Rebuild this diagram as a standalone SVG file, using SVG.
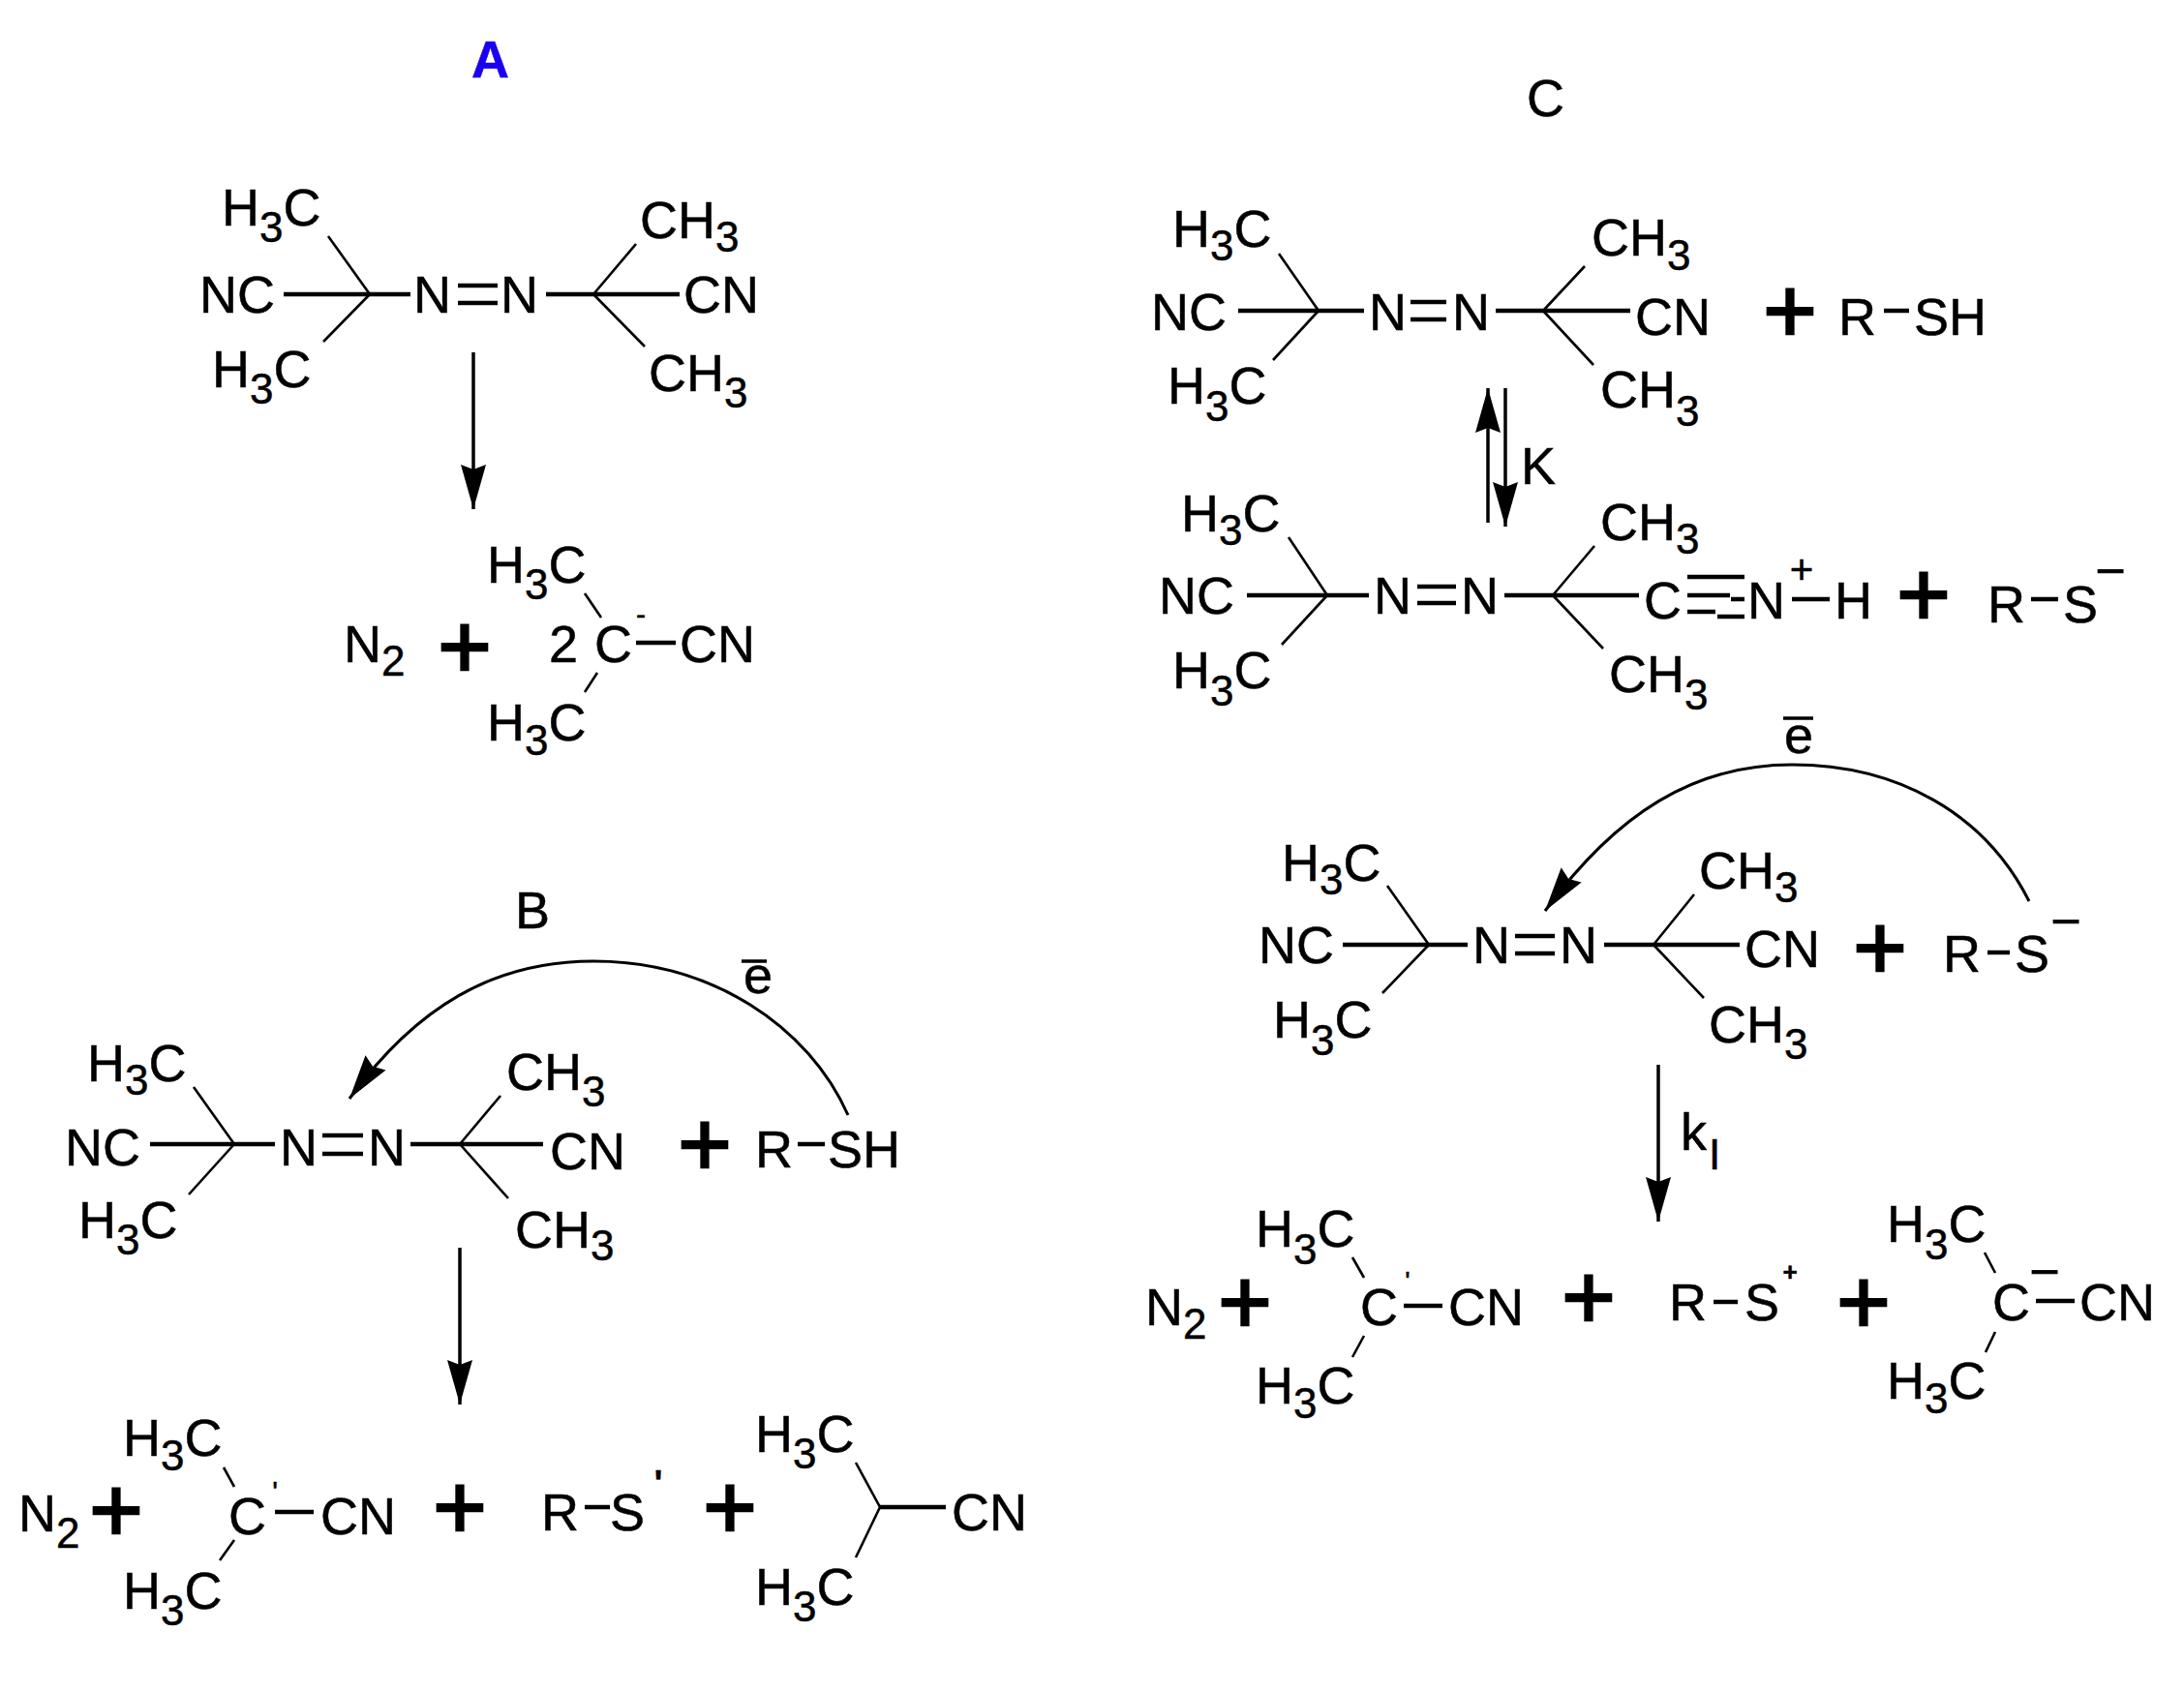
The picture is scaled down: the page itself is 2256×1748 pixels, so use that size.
<svg xmlns="http://www.w3.org/2000/svg" width="2256" height="1748" viewBox="0 0 2256 1748">
<style>
text{font-family:"Liberation Sans",Arial,sans-serif;font-size:54px;fill:#000;stroke:#000;stroke-width:.5;transform:translateX(-2px)}
.s{font-size:44px}
.plus{font-size:95px;text-anchor:middle;stroke-width:2.5;transform:none}
.chg{font-size:42px;text-anchor:middle;transform:none}
.lab{font-size:54px}
line{stroke:#000;stroke-width:3.5}
.b{stroke-width:4.5}
.d{stroke-width:2.6}
path.c{fill:none;stroke:#000;stroke-width:3}
</style>
<defs>
<marker id="head" markerUnits="userSpaceOnUse" markerWidth="60" markerHeight="40" refX="46" refY="15" orient="auto"><path d="M46,15L0,2L5,15L0,28Z" fill="#000"/></marker>
</defs>
<rect width="2256" height="1748" fill="#fff"/>

<g id="labels">
<text x="487" y="80" style="fill:#1a00f0;stroke:#1a00f0;font-size:54px;font-weight:700;transform:none">A</text>
<text class="lab" x="534" y="959">B</text>
<text class="lab" x="1579" y="120">C</text>
<text x="770" y="1026">e</text><line x1="766" y1="993" x2="792" y2="993"/>
<text x="1845" y="778">e</text><line x1="1842" y1="742" x2="1873" y2="742"/>
<text x="1573" y="500">K</text>
<text x="1738" y="1188">k<tspan class="s" dx="2" dy="20">I</tspan></text>
</g>

<g id="connectors">
<line x1="489" y1="364" x2="489" y2="526" marker-end="url(#head)"/>
<path class="c" d="M876,1152C835,1060 735,993 613,993C510,993 430,1040 361,1135" marker-end="url(#head)"/>
<line x1="475" y1="1289" x2="475" y2="1451" marker-end="url(#head)"/>
<line x1="1537" y1="540" x2="1537" y2="401" marker-end="url(#head)"/>
<line x1="1555" y1="401" x2="1555" y2="544" marker-end="url(#head)"/>
<path class="c" d="M2096,931C2050,840 1960,790 1851,790C1750,790 1670,840 1596,941" marker-end="url(#head)"/>
<line x1="1713" y1="1100" x2="1713" y2="1262" marker-end="url(#head)"/>
</g>

<g id="a-reactant">
<text x="231" y="233">H<tspan class="s" dy="17">3</tspan><tspan dy="-17">C</tspan></text>
<text x="208" y="323">NC</text>
<text x="221" y="400">H<tspan class="s" dy="17">3</tspan><tspan dy="-17">C</tspan></text>
<text x="429" y="323">N</text><text x="519" y="323">N</text>
<text x="663" y="246">CH<tspan class="s" dy="14">3</tspan></text>
<text x="708" y="323">CN</text>
<text x="672" y="404">CH<tspan class="s" dy="17">3</tspan></text>
<line class="b" x1="293" y1="304" x2="424" y2="304"/><line class="b" x1="473" y1="295" x2="514" y2="295"/><line class="b" x1="473" y1="313" x2="514" y2="313"/><line class="b" x1="564" y1="304" x2="702" y2="304"/>
<line class="d" x1="339" y1="244" x2="382" y2="304"/><line class="d" x1="334" y1="353" x2="382" y2="304"/><line class="d" x1="657" y1="252" x2="613" y2="304"/><line class="d" x1="666" y1="358" x2="613" y2="304"/>
</g>
<g id="a-product">
<text x="357" y="684">N<tspan class="s" dy="14">2</tspan></text>
<text class="plus" x="480" y="700">+</text>
<text x="505" y="602">H<tspan class="s" dy="17">3</tspan><tspan dy="-17">C</tspan></text>
<text x="569" y="684">2</text><text x="616" y="684">C</text>
<text class="chg" x="662" y="645" style="font-size:30px">-</text>
<text x="704" y="684">CN</text>
<text x="505" y="765">H<tspan class="s" dy="15">3</tspan><tspan dy="-15">C</tspan></text>
<line class="b" x1="657" y1="664" x2="698" y2="664"/>
<line class="d" x1="604" y1="613" x2="621" y2="638"/><line class="d" x1="617" y1="695" x2="604" y2="715"/>
</g>

<g id="b-reactant">
<text x="92" y="1117">H<tspan class="s" dy="14">3</tspan><tspan dy="-14">C</tspan></text>
<text x="69" y="1204">NC</text>
<text x="83" y="1279">H<tspan class="s" dy="17">3</tspan><tspan dy="-17">C</tspan></text>
<text x="291" y="1204">N</text><text x="382" y="1204">N</text>
<text x="525" y="1126">CH<tspan class="s" dy="17">3</tspan></text>
<text x="570" y="1208">CN</text>
<text x="534" y="1289">CH<tspan class="s" dy="13">3</tspan></text>
<text class="plus" x="728" y="1214">+</text>
<text x="782" y="1206">R</text><text x="857" y="1206">SH</text>
<line class="b" x1="824" y1="1182" x2="852" y2="1182"/>
<line class="b" x1="155" y1="1182" x2="284" y2="1182"/><line class="b" x1="333" y1="1173" x2="375" y2="1173"/><line class="b" x1="333" y1="1192" x2="375" y2="1192"/><line class="b" x1="424" y1="1182" x2="561" y2="1182"/>
<line class="d" x1="200" y1="1123" x2="242" y2="1182"/><line class="d" x1="195" y1="1234" x2="242" y2="1182"/><line class="d" x1="517" y1="1132" x2="475" y2="1182"/><line class="d" x1="525" y1="1238" x2="475" y2="1182"/>
</g>
<g id="b-product">
<text x="21" y="1582">N<tspan class="s" dy="17">2</tspan></text>
<text class="plus" x="120" y="1592">+</text>
<text x="129" y="1504">H<tspan class="s" dy="15">3</tspan><tspan dy="-15">C</tspan></text>
<text x="238" y="1585">C</text>
<text x="333" y="1585">CN</text>
<text x="129" y="1662">H<tspan class="s" dy="17">3</tspan><tspan dy="-17">C</tspan></text>
<text class="chg" x="284" y="1551" style="font-size:30px">'</text>
<line class="b" x1="284" y1="1562" x2="324" y2="1562"/>
<line class="d" x1="231" y1="1516" x2="242" y2="1536"/><line class="d" x1="242" y1="1591" x2="227" y2="1612"/>
<text class="plus" x="475" y="1589">+</text>
<text x="561" y="1581">R</text><text x="632" y="1581">S</text>
<text class="chg" x="680" y="1545" style="font-size:36px;font-weight:700">'</text>
<line class="b" x1="604" y1="1557" x2="630" y2="1557"/>
<text class="plus" x="754" y="1589">+</text>
<text x="782" y="1500">H<tspan class="s" dy="17">3</tspan><tspan dy="-17">C</tspan></text>
<text x="985" y="1581">CN</text>
<text x="782" y="1658">H<tspan class="s" dy="17">3</tspan><tspan dy="-17">C</tspan></text>
<line class="d" x1="884" y1="1511" x2="909" y2="1557"/><line class="d" x1="884" y1="1609" x2="909" y2="1557"/><line class="b" x1="909" y1="1557" x2="977" y2="1557"/>
</g>

<g id="c-reactant-1">
<text x="1213" y="255">H<tspan class="s" dy="14">3</tspan><tspan dy="-14">C</tspan></text>
<text x="1191" y="341">NC</text>
<text x="1208" y="417">H<tspan class="s" dy="18">3</tspan><tspan dy="-18">C</tspan></text>
<text x="1416" y="341">N</text><text x="1502" y="341">N</text>
<text x="1646" y="264">CH<tspan class="s" dy="15">3</tspan></text>
<text x="1691" y="346">CN</text>
<text x="1655" y="421">CH<tspan class="s" dy="19">3</tspan></text>
<text class="plus" x="1849" y="353">+</text>
<text x="1901" y="346">R</text><text x="1979" y="346">SH</text>
<line class="b" x1="1946" y1="321" x2="1972" y2="321"/>
<line class="b" x1="1279" y1="321" x2="1409" y2="321"/><line class="b" x1="1457" y1="312" x2="1494" y2="312"/><line class="b" x1="1457" y1="330" x2="1494" y2="330"/><line class="b" x1="1545" y1="321" x2="1684" y2="321"/>
<line class="d" x1="1321" y1="262" x2="1362" y2="321"/><line class="d" x1="1315" y1="372" x2="1362" y2="321"/><line class="d" x1="1637" y1="275" x2="1594" y2="321"/><line class="d" x1="1646" y1="377" x2="1594" y2="321"/>
</g>
<g id="c-reactant-2">
<text x="1222" y="549">H<tspan class="s" dy="14">3</tspan><tspan dy="-14">C</tspan></text>
<text x="1199" y="634">NC</text>
<text x="1213" y="711">H<tspan class="s" dy="18">3</tspan><tspan dy="-18">C</tspan></text>
<text x="1421" y="634">N</text><text x="1511" y="634">N</text>
<text x="1655" y="558">CH<tspan class="s" dy="14">3</tspan></text>
<text x="1664" y="715">CH<tspan class="s" dy="18">3</tspan></text>
<text x="1700" y="639">C</text><text x="1807" y="639">N</text>
<text class="chg" x="1861" y="603">+</text>
<text x="1897" y="639">H</text>
<text class="plus" x="1987" y="646">+</text>
<text x="2055" y="643">R</text><text x="2133" y="643">S</text>
<text class="chg" x="2180" y="608" style="font-size:54px">−</text>
<line class="b" x1="2098" y1="619" x2="2126" y2="619"/>
<line class="b" x1="1288" y1="615" x2="1414" y2="615"/><line class="b" x1="1464" y1="606" x2="1504" y2="606"/><line class="b" x1="1464" y1="623" x2="1504" y2="623"/><line class="b" x1="1554" y1="615" x2="1693" y2="615"/>
<line class="b" x1="1743" y1="596" x2="1802" y2="596"/><line class="b" x1="1743" y1="615" x2="1787" y2="615"/><line class="b" x1="1788" y1="619" x2="1802" y2="619"/><line class="b" x1="1743" y1="632" x2="1772" y2="632"/><line class="b" x1="1774" y1="637" x2="1802" y2="637"/>
<line class="b" x1="1851" y1="619" x2="1890" y2="619"/>
<line class="d" x1="1331" y1="555" x2="1371" y2="615"/><line class="d" x1="1324" y1="666" x2="1371" y2="615"/><line class="d" x1="1647" y1="564" x2="1604" y2="615"/><line class="d" x1="1656" y1="670" x2="1604" y2="615"/>
</g>
<g id="c-reactant-3">
<text x="1326" y="910">H<tspan class="s" dy="14">3</tspan><tspan dy="-14">C</tspan></text>
<text x="1302" y="995">NC</text>
<text x="1317" y="1072">H<tspan class="s" dy="18">3</tspan><tspan dy="-18">C</tspan></text>
<text x="1523" y="995">N</text><text x="1613" y="995">N</text>
<text x="1757" y="918">CH<tspan class="s" dy="14">3</tspan></text>
<text x="1804" y="999">CN</text>
<text x="1767" y="1077">CH<tspan class="s" dy="17">3</tspan></text>
<text class="plus" x="1942" y="1011">+</text>
<text x="2009" y="1004">R</text><text x="2083" y="1004">S</text>
<text class="chg" x="2134" y="970" style="font-size:54px">−</text>
<line class="b" x1="2053" y1="984" x2="2076" y2="984"/>
<line class="b" x1="1387" y1="976" x2="1516" y2="976"/><line class="b" x1="1565" y1="967" x2="1606" y2="967"/><line class="b" x1="1565" y1="985" x2="1606" y2="985"/><line class="b" x1="1657" y1="976" x2="1797" y2="976"/>
<line class="d" x1="1433" y1="915" x2="1476" y2="976"/><line class="d" x1="1428" y1="1026" x2="1476" y2="976"/><line class="d" x1="1750" y1="924" x2="1708" y2="976"/><line class="d" x1="1760" y1="1031" x2="1708" y2="976"/>
</g>
<g id="c-product">
<text x="1185" y="1369">N<tspan class="s" dy="14">2</tspan></text>
<text class="plus" x="1286" y="1377">+</text>
<text x="1299" y="1288">H<tspan class="s" dy="18">3</tspan><tspan dy="-18">C</tspan></text>
<text x="1407" y="1369">C</text>
<text x="1498" y="1369">CN</text>
<text x="1299" y="1450">H<tspan class="s" dy="15">3</tspan><tspan dy="-15">C</tspan></text>
<text class="chg" x="1454" y="1333" style="font-size:28px">'</text>
<line class="b" x1="1450" y1="1349" x2="1490" y2="1349"/>
<line class="d" x1="1397" y1="1299" x2="1409" y2="1320"/><line class="d" x1="1409" y1="1380" x2="1397" y2="1402"/>
<text class="plus" x="1641" y="1372">+</text>
<text x="1726" y="1364">R</text><text x="1804" y="1364">S</text>
<text class="chg" x="1849" y="1323" style="font-size:26px;font-weight:700">+</text>
<line class="b" x1="1770" y1="1345" x2="1795" y2="1345"/>
<text class="plus" x="1925" y="1377">+</text>
<text x="1951" y="1283">H<tspan class="s" dy="18">3</tspan><tspan dy="-18">C</tspan></text>
<text x="2060" y="1364">C</text>
<text class="chg" x="2112" y="1332" style="font-size:54px">−</text>
<text x="2150" y="1364">CN</text>
<text x="1951" y="1445">H<tspan class="s" dy="15">3</tspan><tspan dy="-15">C</tspan></text>
<line class="b" x1="2103" y1="1344" x2="2143" y2="1344"/>
<line class="d" x1="2050" y1="1294" x2="2061" y2="1315"/><line class="d" x1="2061" y1="1376" x2="2051" y2="1397"/>
</g>
</svg>
